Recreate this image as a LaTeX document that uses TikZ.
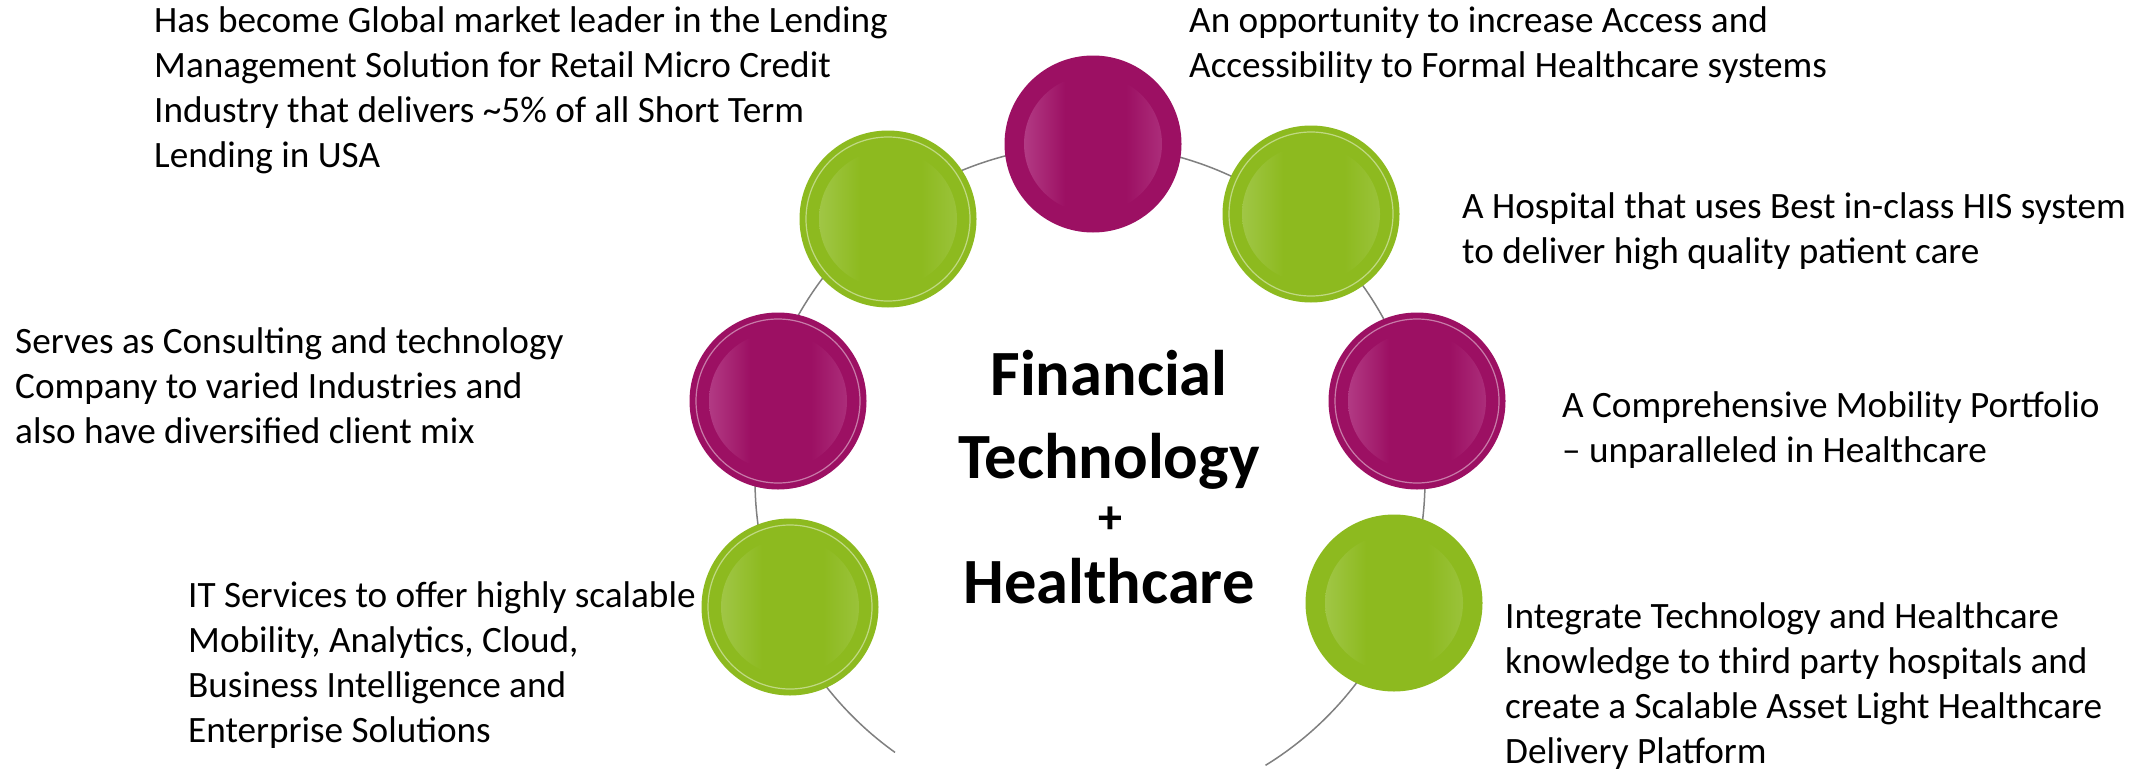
\documentclass[tikz,border=0pt]{standalone}
\usepackage{fontspec}
\setmainfont{Carlito}
\definecolor{magbase}{RGB}{156,16,99}
\definecolor{maglight}{RGB}{178,58,132}
\definecolor{grnbase}{RGB}{141,186,31}
\definecolor{grnlight}{RGB}{160,198,70}
\definecolor{arcgray}{RGB}{128,128,128}
\pgfdeclarehorizontalshading{magshade}{100bp}{color(0bp)=(maglight); color(25bp)=(maglight); color(40bp)=(magbase); color(62bp)=(magbase); color(75bp)=(maglight!70!magbase); color(100bp)=(maglight!70!magbase)}
\pgfdeclarehorizontalshading{grnshade}{100bp}{color(0bp)=(grnlight); color(25bp)=(grnlight); color(40bp)=(grnbase); color(62bp)=(grnbase); color(75bp)=(grnlight!70!grnbase); color(100bp)=(grnlight!70!grnbase)}
\begin{document}
\begin{tikzpicture}[x=1pt,y=-1pt,
  bubble/.style={circle, minimum size=177pt, inner sep=0pt, draw=none},
  magbubble/.style={bubble, fill=magbase},
  grnbubble/.style={bubble, fill=grnbase},
  ringline/.style={draw=white, draw opacity=0.45, line width=1.2pt},
  backbone/.style={draw=arcgray, line width=1.5pt},
  bodytext/.style={anchor=base west, align=left, inner sep=0pt, font=\fontsize{37.2}{44.7}\selectfont},
  titletext/.style={anchor=base, inner sep=0pt, font=\bfseries\fontsize{64.5}{80}\selectfont},
  plustext/.style={anchor=center, inner sep=0pt, font=\bfseries\fontsize{48}{50}\selectfont}
]
\useasboundingbox (0,0) rectangle (2146,771);
\fill[white] (0,0) rectangle (2146,771);

% backbone arc
\coordinate (arcc) at (1090,480);
\draw[backbone] (arcc) ++(125.6:335) arc[start angle=125.6, end angle=418.4, radius=335];

% bubbles
\node[magbubble] (mtop) at (1093,144) {};
\node[grnbubble] (gtl) at (888,219) {};
\node[grnbubble] (gtr) at (1311,214) {};
\node[magbubble] (ml) at (778,401) {};
\node[magbubble] (mr) at (1417,401) {};
\node[grnbubble] (gll) at (790,607) {};
\node[grnbubble] (glr) at (1394,603) {};

\foreach \n in {mtop,ml,mr} \shade[shading=magshade] (\n.center) circle[radius=69];
\foreach \n in {gtl,gtr,gll,glr} \shade[shading=grnshade] (\n.center) circle[radius=69];
\foreach \n in {gtl,gtr,ml,mr,gll} \draw[ringline] (\n.center) circle[radius=82];

% centre title
\node[titletext] (t1) at (1109,395) {Financial};
\node[titletext] (t2) at (1109,478) {Technology};
\node[plustext] (tp) at (1110,520) {+};
\node[titletext] (t3) at (1109,603) {Healthcare};

% descriptions (anchor = baseline of the last line)
\node[bodytext] (d1) at (154,167) {Has become Global market leader in the Lending\\Management Solution for Retail Micro Credit\\Industry that delivers \textasciitilde5\% of all Short Term\\Lending in USA};
\node[bodytext] (d2) at (1189,77) {An opportunity to increase Access and\\Accessibility to Formal Healthcare systems};
\node[bodytext] (d3) at (1462,263) {A Hospital that uses Best in-class HIS system\\to deliver high quality patient care};
\node[bodytext] (d4) at (15,443) {Serves as Consulting and technology\\Company to varied Industries and\\also have diversified client mix};
\node[bodytext] (d5) at (1562,462) {A Comprehensive Mobility Portfolio\\– unparalleled in Healthcare};
\node[bodytext] (d6) at (188,742) {IT Services to offer highly scalable\\Mobility, Analytics, Cloud,\\Business Intelligence and\\Enterprise Solutions};
\node[bodytext] (d7) at (1505,763) {Integrate Technology and Healthcare\\knowledge to third party hospitals and\\create a Scalable Asset Light Healthcare\\Delivery Platform};
\end{tikzpicture}
\end{document}
